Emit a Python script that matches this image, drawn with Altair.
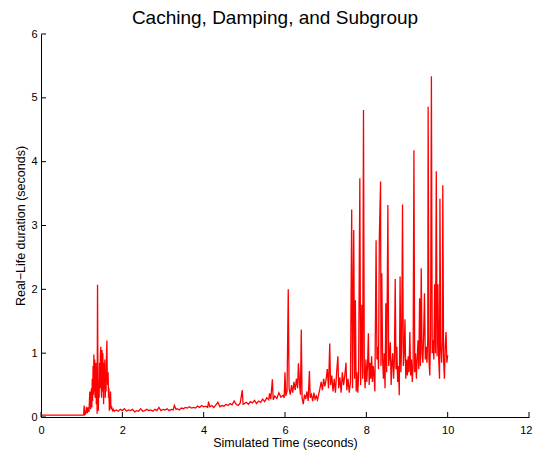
import altair as alt
import pandas as pd

# --- data -------------------------------------------------------------------
t_idle = [0.0, 0.02, 0.5, 1.0, 1.04]
d_idle = [0.05, 0.03, 0.03, 0.03, 0.03]

t_burst = [1.05, 1.06, 1.08, 1.10, 1.12, 1.14, 1.16, 1.18, 1.20, 1.22, 1.23, 1.24,
           1.25, 1.26, 1.27, 1.28, 1.29, 1.30, 1.31, 1.32, 1.33, 1.34, 1.35, 1.36,
           1.37, 1.38, 1.39, 1.40, 1.41, 1.42, 1.43, 1.44, 1.45, 1.46, 1.47, 1.48,
           1.49, 1.50, 1.51, 1.52, 1.53, 1.54, 1.55, 1.56, 1.57, 1.58, 1.59, 1.60,
           1.61, 1.62, 1.63, 1.64, 1.65, 1.66, 1.67, 1.68, 1.69, 1.70, 1.71, 1.72,
           1.74, 1.76, 1.78, 1.80]
d_burst = [0.03, 0.18, 0.04, 0.05, 0.16, 0.06, 0.15, 0.08, 0.40, 0.12, 0.35, 0.45,
           0.15, 0.60, 0.25, 0.80, 0.35, 0.98, 0.40, 0.90, 0.30, 0.60, 0.85, 0.20,
           0.70, 0.05, 2.07, 0.60, 0.10, 0.55, 0.30, 0.85, 0.45, 0.95, 1.10, 0.50,
           0.30, 1.05, 0.40, 1.00, 0.60, 0.20, 0.85, 0.45, 0.90, 0.30, 0.70, 0.40,
           0.95, 1.20, 0.60, 0.50, 0.70, 0.30, 0.45, 0.10, 0.25, 0.15, 0.40, 0.12,
           0.15, 0.10, 0.12, 0.09]

t_calm = [1.85, 1.90, 1.95, 2.00, 2.05, 2.10, 2.15, 2.20, 2.25, 2.30, 2.35, 2.40,
          2.45, 2.50, 2.55, 2.60, 2.65, 2.70, 2.75, 2.80, 2.85, 2.90, 2.95, 3.00,
          3.05, 3.10, 3.15, 3.20, 3.25, 3.28, 3.32, 3.35, 3.40, 3.45, 3.50, 3.55,
          3.60, 3.65, 3.70, 3.75, 3.80, 3.85, 3.90, 3.95, 4.00]
d_calm = [0.11, 0.09, 0.12, 0.10, 0.13, 0.09, 0.11, 0.10, 0.12, 0.08, 0.10, 0.09,
          0.13, 0.09, 0.10, 0.12, 0.10, 0.11, 0.09, 0.12, 0.10, 0.15, 0.10, 0.12,
          0.11, 0.13, 0.10, 0.12, 0.11, 0.18, 0.12, 0.13, 0.11, 0.14, 0.13, 0.15,
          0.14, 0.16, 0.14, 0.15, 0.14, 0.17, 0.15, 0.18, 0.16]

t_rise = [4.05, 4.10, 4.12, 4.15, 4.20, 4.25, 4.30, 4.35, 4.40, 4.45, 4.50, 4.55,
          4.60, 4.65, 4.70, 4.75, 4.80, 4.85, 4.90, 4.95, 4.97, 5.00, 5.05, 5.10,
          5.15, 5.20, 5.25, 5.30, 5.35, 5.40, 5.45, 5.50, 5.55, 5.60, 5.62, 5.65,
          5.69, 5.71, 5.75, 5.80, 5.85, 5.90, 5.95, 5.98, 6.00, 6.02, 6.05, 6.08,
          6.10, 6.13, 6.16, 6.19, 6.22, 6.25, 6.28, 6.31, 6.33, 6.36, 6.38, 6.40,
          6.42, 6.45, 6.48, 6.51, 6.54, 6.57, 6.60, 6.62, 6.65, 6.68, 6.71, 6.74,
          6.77, 6.80, 6.83, 6.86, 6.89, 6.92, 6.95, 6.98, 7.01, 7.04, 7.07, 7.10,
          7.12, 7.15, 7.18, 7.21, 7.24, 7.27, 7.30, 7.32, 7.35, 7.38, 7.41, 7.44,
          7.47, 7.50, 7.52, 7.55, 7.58, 7.61]
d_rise = [0.17, 0.15, 0.24, 0.16, 0.18, 0.15, 0.19, 0.23, 0.16, 0.18, 0.17, 0.20,
          0.18, 0.21, 0.19, 0.25, 0.20, 0.18, 0.22, 0.42, 0.20, 0.21, 0.23, 0.20,
          0.24, 0.22, 0.26, 0.21, 0.25, 0.23, 0.28, 0.24, 0.30, 0.27, 0.37, 0.28,
          0.59, 0.27, 0.33, 0.29, 0.38, 0.31, 0.34, 0.30, 0.70, 0.33, 0.40, 2.00,
          0.45, 0.35, 0.50, 0.38, 0.55, 0.42, 0.60, 0.45, 0.84, 0.50, 0.35, 1.37,
          0.30, 0.20, 0.35, 0.28, 0.40, 0.25, 0.72, 0.30, 0.35, 0.25, 0.38, 0.28,
          0.33, 0.27, 0.36, 0.45, 0.55, 0.42, 0.60, 0.48, 0.58, 0.75, 0.45, 1.15,
          0.50, 0.65, 0.40, 0.60, 0.38, 0.70, 0.95, 0.45, 0.62, 0.38, 0.70, 0.50,
          0.65, 0.85, 0.42, 0.60, 0.38, 0.55]

t_storm = [7.64, 7.66, 7.69, 7.71, 7.73, 7.75, 7.77, 7.79, 7.81, 7.84, 7.86, 7.89,
           7.91, 7.93, 7.95, 7.97, 7.99, 8.01, 8.03, 8.05, 8.07, 8.09, 8.11, 8.13,
           8.15, 8.17, 8.19, 8.21, 8.24, 8.26, 8.28, 8.30, 8.32, 8.35, 8.36, 8.38,
           8.40, 8.42, 8.44, 8.46, 8.48, 8.50, 8.53, 8.55, 8.57, 8.59, 8.61, 8.63,
           8.65, 8.67, 8.69, 8.71, 8.73, 8.75, 8.77, 8.79, 8.81, 8.83, 8.85, 8.87,
           8.89, 8.91, 8.93, 8.95, 8.97, 8.99, 9.01, 9.03, 9.05, 9.07, 9.09, 9.11,
           9.13, 9.15, 9.17, 9.19, 9.21, 9.23, 9.25, 9.27, 9.29, 9.31, 9.33, 9.35,
           9.37, 9.39, 9.41, 9.43, 9.45, 9.47, 9.49, 9.51, 9.52, 9.54, 9.56, 9.58,
           9.60, 9.62, 9.64, 9.66, 9.68, 9.70, 9.72, 9.74, 9.76, 9.78, 9.80, 9.81,
           9.83, 9.85, 9.87, 9.88, 9.90, 9.92, 9.94, 9.96, 9.98, 10.0]
d_storm = [3.25, 0.45, 2.93, 0.60, 1.83, 0.40, 0.70, 0.38, 0.65, 3.74, 0.50, 1.76,
           0.60, 4.81, 0.70, 0.45, 0.90, 0.55, 0.80, 1.31, 0.50, 0.85, 0.60, 0.95,
           0.55, 0.80, 0.65, 0.40, 2.77, 0.90, 1.10, 0.75, 2.82, 3.69, 0.80, 2.25,
           0.90, 0.60, 1.00, 0.45, 1.78, 0.70, 3.32, 0.80, 0.95, 1.17, 0.50, 0.85,
           1.00, 0.60, 0.90, 2.16, 0.75, 1.10, 0.55, 0.80, 0.34, 2.20, 0.70, 1.20,
           3.33, 0.80, 1.00, 1.53, 0.60, 0.90, 0.65, 0.95, 0.70, 1.33, 0.65, 0.90,
           0.55, 0.80, 4.18, 0.70, 1.00, 0.60, 0.90, 1.20, 0.75, 1.86, 0.80, 2.33,
           1.00, 0.85, 1.30, 1.94, 0.90, 1.10, 0.85, 1.20, 4.86, 0.90, 0.65, 1.30,
           5.34, 1.00, 1.20, 0.90, 2.08, 1.00, 3.85, 0.95, 2.08, 0.90, 0.60, 3.42,
           1.10, 0.85, 1.20, 3.63, 0.90, 0.60, 1.10, 1.33, 0.85, 0.97]

x_ticks = [0, 2, 4, 6, 8, 10, 12]
y_ticks = [0, 1, 2, 3, 4, 5, 6]

# --- chart -------------------------------------------------------------------
W, H = 488, 383
FONT = "Liberation Sans"

series = pd.DataFrame({
    "t": t_idle + t_burst + t_calm + t_rise + t_storm,
    "d": d_idle + d_burst + d_calm + d_rise + d_storm,
})

xscale = alt.Scale(domain=[0, 12], nice=False, zero=False)
yscale = alt.Scale(domain=[0, 6], nice=False)

line = alt.Chart(series).mark_line(color="#ff0000", strokeWidth=1.3, clip=True).encode(
    x=alt.X("t:Q", scale=xscale,
            axis=alt.Axis(values=x_ticks, title="Simulated Time (seconds)",
                          tickSize=0, labelPadding=7, titlePadding=1, format="d",
                          labelFlush=False,
                          labelAlign={"condition": {"test": "datum.value == 12", "value": "right"},
                                      "value": "center"},
                          labelOffset={"condition": {"test": "datum.value == 12", "value": 3},
                                       "value": 0})),
    y=alt.Y("d:Q", scale=yscale,
            axis=alt.Axis(values=y_ticks, title="Real\u2212Life duration (seconds)",
                          tickSize=0, labelPadding=4, titlePadding=3, format="d",
                          labelFlush=False)),
)

xt = alt.Chart(pd.DataFrame({"v": x_ticks})).mark_rule(color="black", strokeWidth=1).encode(
    x=alt.X("v:Q", scale=xscale), y=alt.value(H), y2=alt.value(H - 5))
yt = alt.Chart(pd.DataFrame({"v": y_ticks})).mark_rule(color="black", strokeWidth=1).encode(
    y=alt.Y("v:Q", scale=yscale), x=alt.value(0), x2=alt.value(5))

chart = (
    alt.layer(line, xt, yt)
    .properties(
        width=W, height=H,
        title=alt.TitleParams("Caching, Damping, and Subgroup", fontSize=19,
                              font=FONT, fontWeight="normal", color="black",
                              anchor="middle", dx=-10, offset=0),
        autosize=alt.AutoSizeParams(type="none"),
        padding={"left": 33, "top": 26, "right": 3, "bottom": 35},
    )
    .configure_view(stroke=None)
    .configure_axis(
        domainColor="black", domainWidth=1, grid=False,
        labelFont=FONT, labelFontSize=11, labelColor="black",
        titleFont=FONT, titleFontSize=12.5, titleFontWeight="normal", titleColor="black",
    )
)

chart.save("out.html", embed_options={"renderer": "svg", "actions": False})
